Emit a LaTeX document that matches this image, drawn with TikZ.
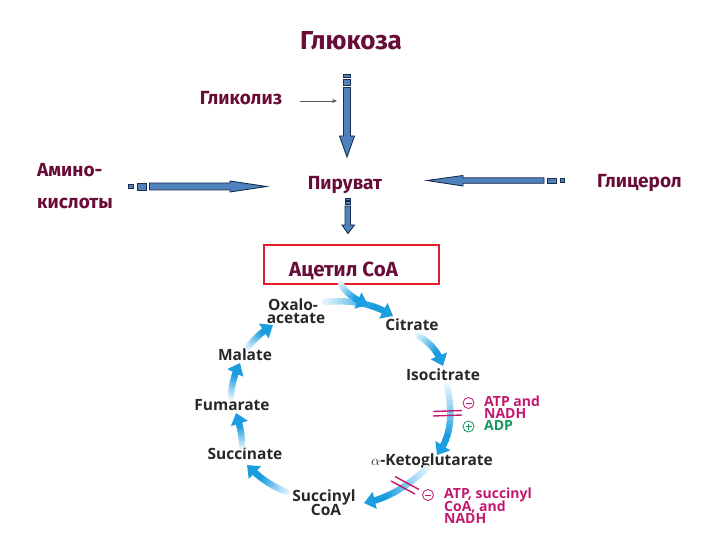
\documentclass[tikz,border=0pt]{standalone}
\usepackage{fontspec}
\setmainfont{Fira Sans}
\newfontfamily\cycfont{Open Sans}
\usetikzlibrary{arrows.meta,calc}
\definecolor{labmaroon}{RGB}{105,12,55}
\definecolor{blkfill}{RGB}{79,129,189}
\definecolor{blkline}{RGB}{25,45,80}
\definecolor{boxred}{RGB}{228,30,40}
\definecolor{cycblue}{RGB}{27,157,224}
\definecolor{cyctext}{RGB}{40,40,40}
\definecolor{inhcol}{RGB}{196,24,110}
\definecolor{actcol}{RGB}{20,150,95}
\newcommand\cycarrow[3]{%
  \foreach \i in {0,...,11}{%
    \pgfmathsetmacro\ta{\i*0.8/12}%
    \pgfmathsetmacro\tb{(\i+1)*0.8/12}%
    \pgfmathtruncatemacro\pc{min(100,12+9*\i)}%
    \draw[cycline, cycblue!\pc!white]
      ($($(#1)!\ta!(#2)$)!\ta!($(#2)!\ta!(#3)$)$) --
      ($($(#1)!\tb!(#2)$)!\tb!($(#2)!\tb!(#3)$)$);
  }%
  \draw[cycline, line cap=butt, cycblue, -{Triangle[length=11pt,width=17pt]}]
    ($($(#1)!0.8!(#2)$)!0.8!($(#2)!0.8!(#3)$)$) -- (#3);
}
\begin{document}
\begin{tikzpicture}[x=1pt,y=-1pt,
  lab/.style={text=labmaroon, font=\bfseries\fontsize{19}{21}\selectfont, inner sep=0},
  cyc/.style={text=cyctext, font=\cycfont\bfseries\fontsize{15.5}{16}\selectfont, inner sep=0, anchor=base},
  inh/.style={text=inhcol, font=\cycfont\bfseries\fontsize{14}{14}\selectfont, inner sep=0, anchor=base west},
  blk/.style={fill=blkfill, draw=blkline, line width=0.9pt, line join=miter},
  cycline/.style={line width=6.5pt, line cap=round},
  sign/.style={circle, draw, line width=0.8pt, minimum size=11pt, inner sep=0}]
\useasboundingbox (0,0) rectangle (720,540);

% top labels
\node[lab, font=\bfseries\fontsize{26}{28}\selectfont, anchor=base] (glu) at (351,50) {Глюкоза};
\node[lab, anchor=base] (gly) at (241,105) {Гликолиз};
\node[lab, anchor=base] (pyr) at (345,190) {Пируват};
\node[lab, anchor=base west] (ami1) at (37,177) {Амино-};
\node[lab, anchor=base west] (ami2) at (37,208) {кислоты};
\node[lab, anchor=base west] (gcl) at (597,188) {Глицерол};

% glycolysis thin arrow
\coordinate (g1) at (300,101);
\coordinate (g2) at (337,101);
\draw[line width=0.7pt, black!65, -{Stealth[length=5pt,width=4pt]}] (g1) -- (g2);

% down arrow glucose -> pyruvate
\filldraw[blk] (343,74) rectangle (350.5,77);
\filldraw[blk] (343,79.5) rectangle (350.5,85);
\filldraw[blk] (343.5,87.5) -- (343.5,136) -- (339.5,136) -- (347,157) -- (354.5,136)
  -- (350.5,136) -- (350.5,87.5) -- cycle;

% down arrow pyruvate -> acetyl CoA
\filldraw[blk] (345,198.5) rectangle (350.5,200);
\filldraw[blk] (345,201.5) rectangle (350.5,204.5);
\filldraw[blk] (345,206) -- (345,225) -- (342,225) -- (348,233.5) -- (354.5,225)
  -- (350.5,225) -- (350.5,206) -- cycle;

% amino acids arrow
\filldraw[blk] (128.5,184.5) rectangle (133,188.5);
\filldraw[blk] (137.5,183) rectangle (146,190);
\filldraw[blk] (149.5,183) -- (230,183) -- (230,181) -- (266.5,186.5) -- (230,192)
  -- (230,190) -- (149.5,190) -- cycle;

% glycerol arrow
\filldraw[blk] (560.5,178.5) rectangle (564.5,182.5);
\filldraw[blk] (547.5,178) rectangle (556.5,183);
\filldraw[blk] (427,180.5) -- (463,175.5) -- (463,177.8) -- (544,177.8) -- (544,183.3)
  -- (463,183.3) -- (463,186) -- cycle;

% acetyl CoA box
\node[draw=boxred, line width=1.8pt, minimum width=175pt, minimum height=39pt, inner sep=0] (box) at (351.5,264.5) {};
\node[lab, font=\bfseries\fontsize{20.5}{22}\selectfont, anchor=base] (acc) at (343.5,276) {Ацетил CoA};

% cycle labels
\node[cyc] (oxa1) at (293,310.5) {Oxalo-};
\node[cyc] (oxa2) at (296,323) {acetate};
\node[cyc] (cit) at (412,330) {Citrate};
\node[cyc] (iso) at (443,380) {Isocitrate};
\node[cyc] (akg) at (432,465) {$\alpha$-Ketoglutarate};
\node[cyc] (suc1) at (324,501.5) {Succinyl};
\node[cyc] (suc2) at (326,515.5) {CoA};
\node[cyc] (sct) at (245,459) {Succinate};
\node[cyc] (fum) at (232,410.5) {Fumarate};
\node[cyc] (mal) at (245,360) {Malate};

% cycle arrows
\cycarrow{325,302}{365,298}{393,316}
\cycarrow{341,285}{350,298}{368,305}
\cycarrow{418,336}{436,345}{443,366}
\cycarrow{447,386}{457,430}{437,455}
\cycarrow{427,468}{395,498}{364,503}
\cycarrow{287,492}{265,484}{247,465}
\cycarrow{242,446}{242,430}{236,413}
\cycarrow{231,397}{232,378}{240,363}
\cycarrow{248,347}{258,334}{273,325}

% regulation bars
\draw[inhcol, line width=1.4pt] (433,411.5) -- (462,410.5);
\draw[inhcol, line width=1.4pt] (433,416) -- (462,415);
\draw[inhcol, line width=1.4pt] (391,481) -- (415,494);
\draw[inhcol, line width=1.4pt] (395,476.5) -- (419,489.5);

% regulation labels
\node[sign, draw=inhcol] (m1) at (468.5,403) {};
\draw[inhcol, line width=0.8pt] ($(m1)+(-3,0)$) -- ($(m1)+(3,0)$);
\node[inh] (t1) at (484,406.7) {ATP and};
\node[inh] (t2) at (484,418.5) {NADH};
\node[sign, draw=actcol] (p1) at (468.5,426.5) {};
\draw[actcol, line width=0.8pt] ($(p1)+(-3,0)$) -- ($(p1)+(3,0)$) ($(p1)+(0,-3)$) -- ($(p1)+(0,3)$);
\node[inh, text=actcol] (t3) at (484,430.5) {ADP};

\node[sign, draw=inhcol] (m2) at (428,495) {};
\draw[inhcol, line width=0.8pt] ($(m2)+(-3,0)$) -- ($(m2)+(3,0)$);
\node[inh] (t4) at (444,498.5) {ATP, succinyl};
\node[inh] (t5) at (444,511.5) {CoA, and};
\node[inh] (t6) at (444,523.5) {NADH};
\end{tikzpicture}
\end{document}
